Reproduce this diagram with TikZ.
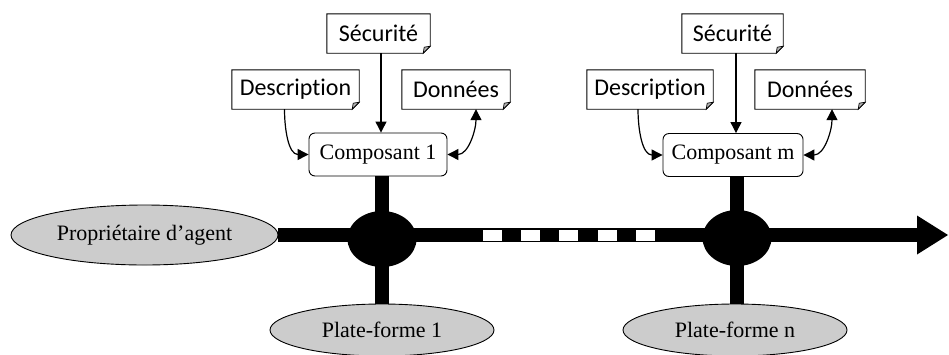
\documentclass[tikz,border=0pt]{standalone}
\usepackage{fontspec}
\setmainfont{Liberation Serif}
\newfontfamily\notefont[Ligatures={NoCommon}]{Carlito}
\usetikzlibrary{arrows.meta,shapes.geometric,calc}

\tikzset{
  notebox/.style={minimum height=39pt, inner sep=0pt, font=\notefont\fontsize{24}{26}\selectfont},
  compbox/.style={draw, line width=0.9pt, rounded corners=6pt, minimum width=138pt, minimum height=43pt,
                  inner sep=0pt, font=\fontsize{22}{24}\selectfont},
  actor/.style={ellipse, draw, line width=0.9pt, fill=gray!40, inner sep=0pt, font=\fontsize{22}{24}\selectfont},
  hub/.style={ellipse, fill=black, minimum width=69pt, minimum height=56pt, inner sep=0pt},
  gap/.style={draw, line width=0.7pt, fill=white, minimum width=20pt, minimum height=12pt, inner sep=0pt},
  bar/.style={line width=14pt},
  link/.style={line width=1.2pt, -{Triangle[length=11pt,width=11pt]}},
  twoway/.style={line width=1.2pt, {Triangle[length=11pt,width=11pt]}-{Triangle[length=11pt,width=11pt]}},
}

\begin{document}
\begin{tikzpicture}[x=1pt, y=-1pt]
\useasboundingbox (0,0) rectangle (949,354);

% component 1 and its notes
\node[notebox, minimum width=103pt] (sec1)  at (378.5,33.5) {Sécurité};
\node[notebox, minimum width=127pt] (desc1) at (295.5,89.5) {Description};
\node[notebox, minimum width=108pt] (don1)  at (456,89.5)   {Données};
\node[compbox] (c1) at (378,154.5) {Composant 1};

% component m and its notes
\node[notebox, minimum width=101pt] (sec2)  at (732.5,33.5) {Sécurité};
\node[notebox, minimum width=126pt] (desc2) at (650,89.5)   {Description};
\node[notebox, minimum width=110pt] (don2)  at (810,89.5)   {Données};
\node[compbox, minimum width=140pt] (c2) at (733,155) {Composant m};

% dog-eared note outlines
\foreach \n in {sec1,desc1,don1,sec2,desc2,don2}{
  \draw[line width=0.9pt] (\n.north west) -- (\n.north east) -- ([yshift=7pt]\n.south east)
        -- ([xshift=-7pt]\n.south east) -- (\n.south west) -- cycle;
  \filldraw[line width=0.7pt, fill=gray!60] ([yshift=7pt]\n.south east) -- ([xshift=-7pt]\n.south east)
        -- ([xshift=-6pt,yshift=6pt]\n.south east) -- cycle;
}

% owner, platforms and hubs
\node[actor, minimum width=267pt, minimum height=60pt] (owner) at (144.5,235) {Propriétaire d’agent};
\node[actor, minimum width=224pt, minimum height=52pt] (pf1) at (382,330) {Plate-forme 1};
\node[actor, minimum width=224pt, minimum height=52pt] (pf2) at (735,330) {Plate-forme n};
\coordinate (h1) at (382,239);
\coordinate (h2) at (737,238);
\coordinate (tip) at (948,235);

% main line and branches
\draw[bar, -{Triangle[length=31pt,width=39pt,line width=0pt]}] (owner.east) -- (tip);
\draw[bar] (h1 |- c1.south) -- (h1 |- pf1.north);
\draw[bar] (h2 |- c2.south) -- (h2 |- pf2.north);
\node[hub] (hub1) at (h1) {};
\node[hub] (hub2) at (h2) {};

% elided platforms
\foreach \x [count=\i] in {492,530,568,607,645}
  \node[gap] (gap\i) at (\x,235) {};

% note connectors
\draw[link] ($(c1.north |- sec1.south)+(3,0)$) -- ($(c1.north)+(3,0)$);
\draw[link] ($(desc1.south)+(-11,0)$) to[out=-90, in=180] (c1.west);
\draw[twoway] (c1.east) to[out=0, in=-90] ($(don1.south)+(20,0)$);

\draw[link] ($(c2.north |- sec2.south)+(3,0)$) -- ($(c2.north)+(3,0)$);
\draw[link] ($(desc2.south)+(-12,0)$) to[out=-90, in=180] (c2.west);
\draw[twoway] (c2.east) to[out=0, in=-90] ($(don2.south)+(22,0)$);
\end{tikzpicture}
\end{document}
